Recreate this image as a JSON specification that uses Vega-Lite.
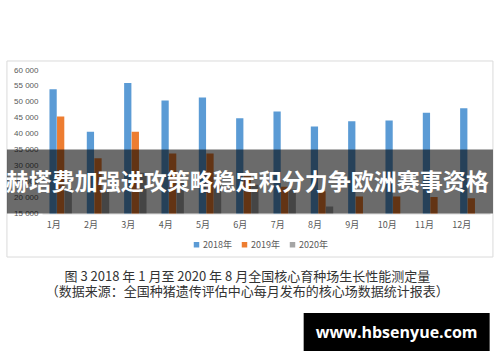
{
  "$schema": "https://vega.github.io/schema/vega-lite/v6.json",
  "width": 448,
  "height": 143.5,
  "autosize": "none",
  "padding": {"left": 42, "top": 70, "right": 10, "bottom": 148},
  "background": "white",
  "config": {
    "view": {"stroke": null},
    "font": "Noto Sans CJK SC",
    "axisY": {"labelOverlap": false, "labelSeparation": 0}
  },
  "data": {
    "values": [
      {"month": "1月", "year": "2018年", "value": 54000},
      {"month": "2月", "year": "2018年", "value": 40600},
      {"month": "3月", "year": "2018年", "value": 55900},
      {"month": "4月", "year": "2018年", "value": 50400},
      {"month": "5月", "year": "2018年", "value": 51400},
      {"month": "6月", "year": "2018年", "value": 44900},
      {"month": "7月", "year": "2018年", "value": 47000},
      {"month": "8月", "year": "2018年", "value": 42300},
      {"month": "9月", "year": "2018年", "value": 43900},
      {"month": "10月", "year": "2018年", "value": 44200},
      {"month": "11月", "year": "2018年", "value": 46600},
      {"month": "12月", "year": "2018年", "value": 48000},
      {"month": "1月", "year": "2019年", "value": 45400},
      {"month": "2月", "year": "2019年", "value": 32300},
      {"month": "3月", "year": "2019年", "value": 40600},
      {"month": "4月", "year": "2019年", "value": 33800},
      {"month": "5月", "year": "2019年", "value": 33800},
      {"month": "6月", "year": "2019年", "value": 27600},
      {"month": "7月", "year": "2019年", "value": 23400},
      {"month": "8月", "year": "2019年", "value": 22000},
      {"month": "9月", "year": "2019年", "value": 20300},
      {"month": "10月", "year": "2019年", "value": 20300},
      {"month": "11月", "year": "2019年", "value": 20200},
      {"month": "12月", "year": "2019年", "value": 19800},
      {"month": "1月", "year": "2020年", "value": 23000},
      {"month": "2月", "year": "2020年", "value": 22500},
      {"month": "3月", "year": "2020年", "value": 27800},
      {"month": "4月", "year": "2020年", "value": 26500},
      {"month": "5月", "year": "2020年", "value": 24500},
      {"month": "6月", "year": "2020年", "value": 24000},
      {"month": "7月", "year": "2020年", "value": 22500},
      {"month": "8月", "year": "2020年", "value": 17200}
    ]
  },
  "layer": [
    {
      "data": {"values": [{}]},
      "mark": {"type": "point", "filled": false, "opacity": 1, "stroke": "#DADADA", "strokeWidth": 1, "shape": "M-0.9893,-0.4033L1.0107,-0.4033L1.0107,0.4033L-0.9893,0.4033Z", "size": 236196},
      "encoding": {
        "x": {"datum": "6月"},
        "y": {"datum": 32090}
      }
    },
    {
      "mark": {"type": "bar", "clip": true},
      "encoding": {
        "x": {
          "field": "month",
          "type": "nominal",
          "sort": null,
          "scale": {"domain": ["1月", "2月", "3月", "4月", "5月", "6月", "7月", "8月", "9月", "10月", "11月", "12月"], "paddingInner": 0.4, "paddingOuter": 0.2},
          "axis": {
            "title": null,
            "labelAngle": 0,
            "labelFontSize": 9,
            "labelColor": "#595959",
            "labelPadding": 11,
            "ticks": false,
            "domainColor": "#D9D9D9",
            "labelFont": "Noto Sans CJK SC"
          }
        },
        "xOffset": {"field": "year", "type": "nominal", "scale": {"paddingInner": 0.04}},
        "y": {
          "field": "value",
          "type": "quantitative",
          "scale": {"domain": [15000, 60000], "zero": false, "nice": false},
          "axis": {
            "title": null,
            "tickCount": 9,
            "labelExpr": "replace(format(datum.value, ','), ',', ' ')",
            "labelOverlap": false,
            "labelFontSize": 8,
            "labelColor": "#595959",
            "labelPadding": 4,
            "ticks": false,
            "domain": false,
            "gridColor": "#E3E3E3",
            "gridWidth": 0.8,
            "labelFont": "Liberation Sans"
          }
        },
        "color": {
          "field": "year",
          "type": "nominal",
          "scale": {"domain": ["2018年", "2019年", "2020年"], "range": ["#5B9BD5", "#ED7D31", "#A5A5A5"]},
          "legend": {
            "title": null,
            "orient": "none",
            "direction": "horizontal",
            "legendX": 150,
            "legendY": 170,
            "symbolType": "square",
            "symbolSize": 30,
            "symbolOffset": 0,
            "labelFontSize": 9,
            "labelColor": "#595959",
            "labelOffset": 2,
            "columnPadding": 8,
            "labelFont": "Noto Sans CJK SC"
          }
        }
      }
    },
    {
      "data": {"values": [{}]},
      "mark": {"type": "point", "filled": true, "opacity": 0.58, "color": "black", "shape": "M-0.9893,-0.1317L1.0107,-0.1317L1.0107,0.1317L-0.9893,0.1317Z", "size": 236196},
      "encoding": {
        "x": {"datum": "6月"},
        "y": {"datum": 25000}
      }
    },
    {
      "data": {"values": [{}]},
      "mark": {"type": "text", "color": "white", "font": "Noto Sans CJK SC", "fontSize": 23, "fontWeight": "bold", "baseline": "middle", "align": "center"},
      "encoding": {
        "x": {"datum": "6月"},
        "y": {"datum": 24658},
        "text": {"value": "赫塔费加强进攻策略稳定积分力争欧洲赛事资格"}
      }
    },
    {
      "data": {"values": [{}]},
      "mark": {"type": "text", "color": "#333333", "font": "Noto Sans CJK SC", "fontSize": 13, "baseline": "middle", "align": "center"},
      "encoding": {
        "x": {"datum": "6月"},
        "y": {"datum": -5000},
        "text": {"value": "图 3  2018 年 1 月至 2020 年 8 月全国核心育种场生长性能测定量"}
      }
    },
    {
      "data": {"values": [{}]},
      "mark": {"type": "text", "color": "#333333", "font": "Noto Sans CJK SC", "fontSize": 13, "baseline": "middle", "align": "center"},
      "encoding": {
        "x": {"datum": "6月"},
        "y": {"datum": -9600},
        "text": {"value": "（数据来源：全国种猪遗传评估中心每月发布的核心场数据统计报表）"}
      }
    },
    {
      "data": {"values": [{}]},
      "mark": {"type": "point", "filled": true, "opacity": 1, "color": "black", "shape": "M-1,-0.204L1,-0.204L1,0.204L-1,0.204Z", "size": 34596},
      "encoding": {
        "x": {"datum": "10月"},
        "y": {"datum": -22160}
      }
    },
    {
      "data": {"values": [{}]},
      "mark": {"type": "text", "color": "white", "font": "Open Sans", "fontSize": 16, "fontWeight": "bold", "baseline": "middle", "align": "center"},
      "encoding": {
        "x": {"datum": "10月"},
        "y": {"datum": -22400},
        "text": {"value": "www.hbsenyue.com"}
      }
    }
  ]
}
